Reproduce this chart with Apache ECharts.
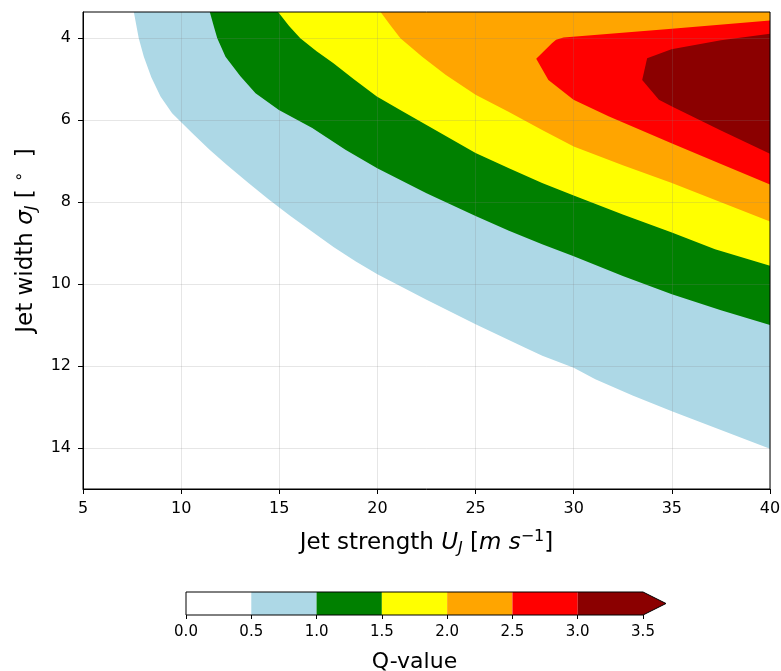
<!DOCTYPE html>
<html><head><meta charset="utf-8">
<script src="https://cdn.jsdelivr.net/npm/echarts@6/dist/echarts.min.js"></script>
<style>html,body{margin:0;padding:0;background:#fff}#c{width:781px;height:671px}</style>
</head><body><div id="c"></div>
<script>
// axes
const xTicks = [5, 10, 15, 20, 25, 30, 35, 40];
const yTicks = [4, 6, 8, 10, 12, 14];
const xRange = [5, 40];
const yRange = [3.36, 15];
// contour levels and colours
const levels = [0, 0.5, 1.0, 1.5, 2.0, 2.5, 3.0, 3.5];
const levelColors = ['#ffffff', '#add8e6', '#008000', '#ffff00', '#ffa500', '#ff0000', '#8b0000'];
// contour boundaries [U_J, sigma_J]
const q05 = [[7.59,3.36],[7.73,3.72],[7.84,4.0],[8.10,4.45],[8.48,4.95],[8.95,5.42],[9.54,5.83],[10.56,6.31],[11.45,6.72],[12.35,7.1],[13.4,7.52],[14.45,7.93],[15.55,8.33],[16.68,8.72],[17.78,9.1],[18.9,9.45],[20.0,9.76],[22.5,10.38],[25.0,10.98],[27.5,11.55],[28.4,11.75],[30.0,12.04],[31.1,12.32],[33.0,12.72],[35.0,13.1],[37.5,13.56],[40,14.02]];
const q10 = [[11.46,3.36],[11.67,3.72],[11.84,4.0],[12.26,4.45],[13.02,4.93],[13.79,5.34],[14.98,5.75],[16.68,6.19],[18.37,6.72],[19.99,7.17],[22.5,7.78],[25.0,8.34],[26.7,8.7],[28.39,9.03],[30.0,9.32],[32.5,9.8],[35.0,10.25],[37.5,10.64],[40,11.0]];
const q15 = [[14.94,3.36],[15.5,3.7],[16.07,4.0],[16.9,4.32],[17.76,4.61],[18.8,5.0],[19.97,5.42],[21.16,5.75],[22.5,6.12],[25.0,6.8],[26.7,7.17],[28.39,7.53],[30.0,7.84],[32.5,8.3],[35.0,8.74],[37.2,9.15],[40,9.55]];
const q20 = [[20.16,3.36],[20.65,3.68],[21.17,4.0],[22.28,4.45],[23.47,4.89],[25.0,5.38],[26.7,5.8],[28.39,6.24],[30.0,6.64],[32.5,7.1],[35.0,7.53],[37.5,8.0],[40,8.47]];
const q25 = [[40,3.57],[35.0,3.77],[29.48,3.98],[29.1,4.04],[28.89,4.12],[28.09,4.5],[28.71,5.02],[29.99,5.5],[31.8,5.91],[34.98,6.56],[37.5,7.07],[40,7.57]];
const q30 = [[40,3.89],[37.5,4.05],[34.98,4.27],[33.74,4.49],[33.49,5.02],[34.34,5.5],[34.98,5.66],[37.5,6.25],[40,6.82]];
const colorbarTicks = [0, 0.5, 1.0, 1.5, 2.0, 2.5, 3.0, 3.5];
const cbArrow = 0.176;

const FONT = 'DejaVu Sans';

function contourSeries(points, color, openToCorner) {
  const pts = openToCorner ? points.concat([[xRange[1], yRange[0]]]) : points;
  return {
    type: 'custom', xAxisIndex: 0, yAxisIndex: 0, silent: true, z: 2,
    data: pts,
    renderItem: function (params, api) {
      if (params.dataIndex !== 0) return null;
      return { type: 'polygon', shape: { points: pts.map(p => api.coord(p)) },
               style: { fill: color } };
    }
  };
}

const cbRects = levels.slice(0, -1).map((v, i) => [v, levels[i + 1], i]);

const rich = {
  t: { fontSize: 23, fontFamily: FONT, color: '#000', lineHeight: 28 },
  i: { fontSize: 23, fontFamily: FONT, fontStyle: 'italic', color: '#000', lineHeight: 28 },
  sub: { fontSize: 16, fontFamily: FONT, fontStyle: 'italic', color: '#000', lineHeight: 15, verticalAlign: 'bottom' },
  sup: { fontSize: 16, fontFamily: FONT, color: '#000', lineHeight: 15, verticalAlign: 'top' }
};

const option = {
  animation: false,
  backgroundColor: '#fff',
  grid: [
    { left: 83, top: 12, right: 11, bottom: 182, show: true, borderColor: '#000', borderWidth: 1, backgroundColor: 'transparent', z: 10, outerBoundsMode: 'none', containLabel: false },
    { left: 186, top: 592, width: 457, height: 23, show: false, outerBoundsMode: 'none', containLabel: false }
  ],
  xAxis: [
    { type: 'value', gridIndex: 0, min: xRange[0], max: xRange[1], interval: 5, z: 5,
      axisLine: { show: true, lineStyle: { color: '#000', width: 1 } },
      axisTick: { show: true, length: 5, lineStyle: { color: '#000' } },
      axisLabel: { fontSize: 16, fontFamily: FONT, color: '#000', margin: 12 },
      splitLine: { show: true, lineStyle: { color: 'rgba(128,128,128,0.2)', width: 1 } },
      name: '{t|Jet strength }{i|U}{sub|J}{t| [}{i|m s}{sup|−1}{t|]}',
      nameLocation: 'middle', nameGap: 40,
      nameTextStyle: { rich: rich }
    },
    { type: 'value', gridIndex: 1, min: 0, max: 3.5, interval: 0.5,
      axisLine: { show: false },
      axisTick: { show: true, length: 4, lineStyle: { color: '#000' } },
      axisLabel: { fontSize: 15, fontFamily: FONT, color: '#000', margin: 10, formatter: v => v.toFixed(1) },
      splitLine: { show: false },
      name: 'Q-value', nameLocation: 'middle', nameGap: 36,
      nameTextStyle: { fontSize: 22, fontFamily: FONT, color: '#000' }
    }
  ],
  yAxis: [
    { type: 'value', gridIndex: 0, min: yRange[0], max: yRange[1], inverse: true, z: 5,
      axisLine: { show: true, lineStyle: { color: '#000', width: 1 } },
      axisTick: { show: true, length: 5, lineStyle: { color: '#000' }, customValues: yTicks },
      axisLabel: { fontSize: 16, fontFamily: FONT, color: '#000', margin: 12, customValues: yTicks },
      splitLine: { show: true, lineStyle: { color: 'rgba(128,128,128,0.2)', width: 1 } },
      name: '{t|Jet width }{i|σ}{sub|J}{t| [ }{sup|∘}{t|  ]}',
      nameLocation: 'middle', nameGap: 42, nameRotate: 90,
      nameTextStyle: { rich: rich, padding: [0, 0, 0, 20] }
    },
    { type: 'value', gridIndex: 1, min: 0, max: 1, show: false }
  ],
  series: [
    contourSeries(q05, levelColors[1], true),
    contourSeries(q10, levelColors[2], true),
    contourSeries(q15, levelColors[3], true),
    contourSeries(q20, levelColors[4], true),
    contourSeries(q25, levelColors[5], false),
    contourSeries(q30, levelColors[6], false),
    {
      type: 'custom', xAxisIndex: 1, yAxisIndex: 1, silent: true, clip: false,
      data: cbRects,
      renderItem: function (params, api) {
        const a = api.coord([api.value(0), 1]);
        const b = api.coord([api.value(1), 0]);
        return { type: 'rect', shape: { x: a[0], y: a[1], width: b[0] - a[0], height: b[1] - a[1] },
                 style: { fill: levelColors[api.value(2)] } };
      }
    },
    {
      type: 'custom', xAxisIndex: 1, yAxisIndex: 1, silent: true, clip: false, z: 3,
      data: [[levels[levels.length - 1], 0]],
      renderItem: function (params, api) {
        const hi = levels[levels.length - 1];
        const tri = [[hi, 0], [hi + cbArrow, 0.5], [hi, 1]].map(p => api.coord(p));
        const outline = [[levels[0], 0], [hi, 0], [hi + cbArrow, 0.5], [hi, 1], [levels[0], 1]].map(p => api.coord(p));
        return { type: 'group', children: [
          { type: 'polygon', shape: { points: tri }, style: { fill: levelColors[levelColors.length - 1] } },
          { type: 'polygon', shape: { points: outline }, style: { fill: 'none', stroke: '#000', lineWidth: 1 } }
        ] };
      }
    }
  ]
};
const chart = echarts.init(document.getElementById('c'), null, { renderer: 'canvas' });
chart.setOption(option);
</script></body></html>
